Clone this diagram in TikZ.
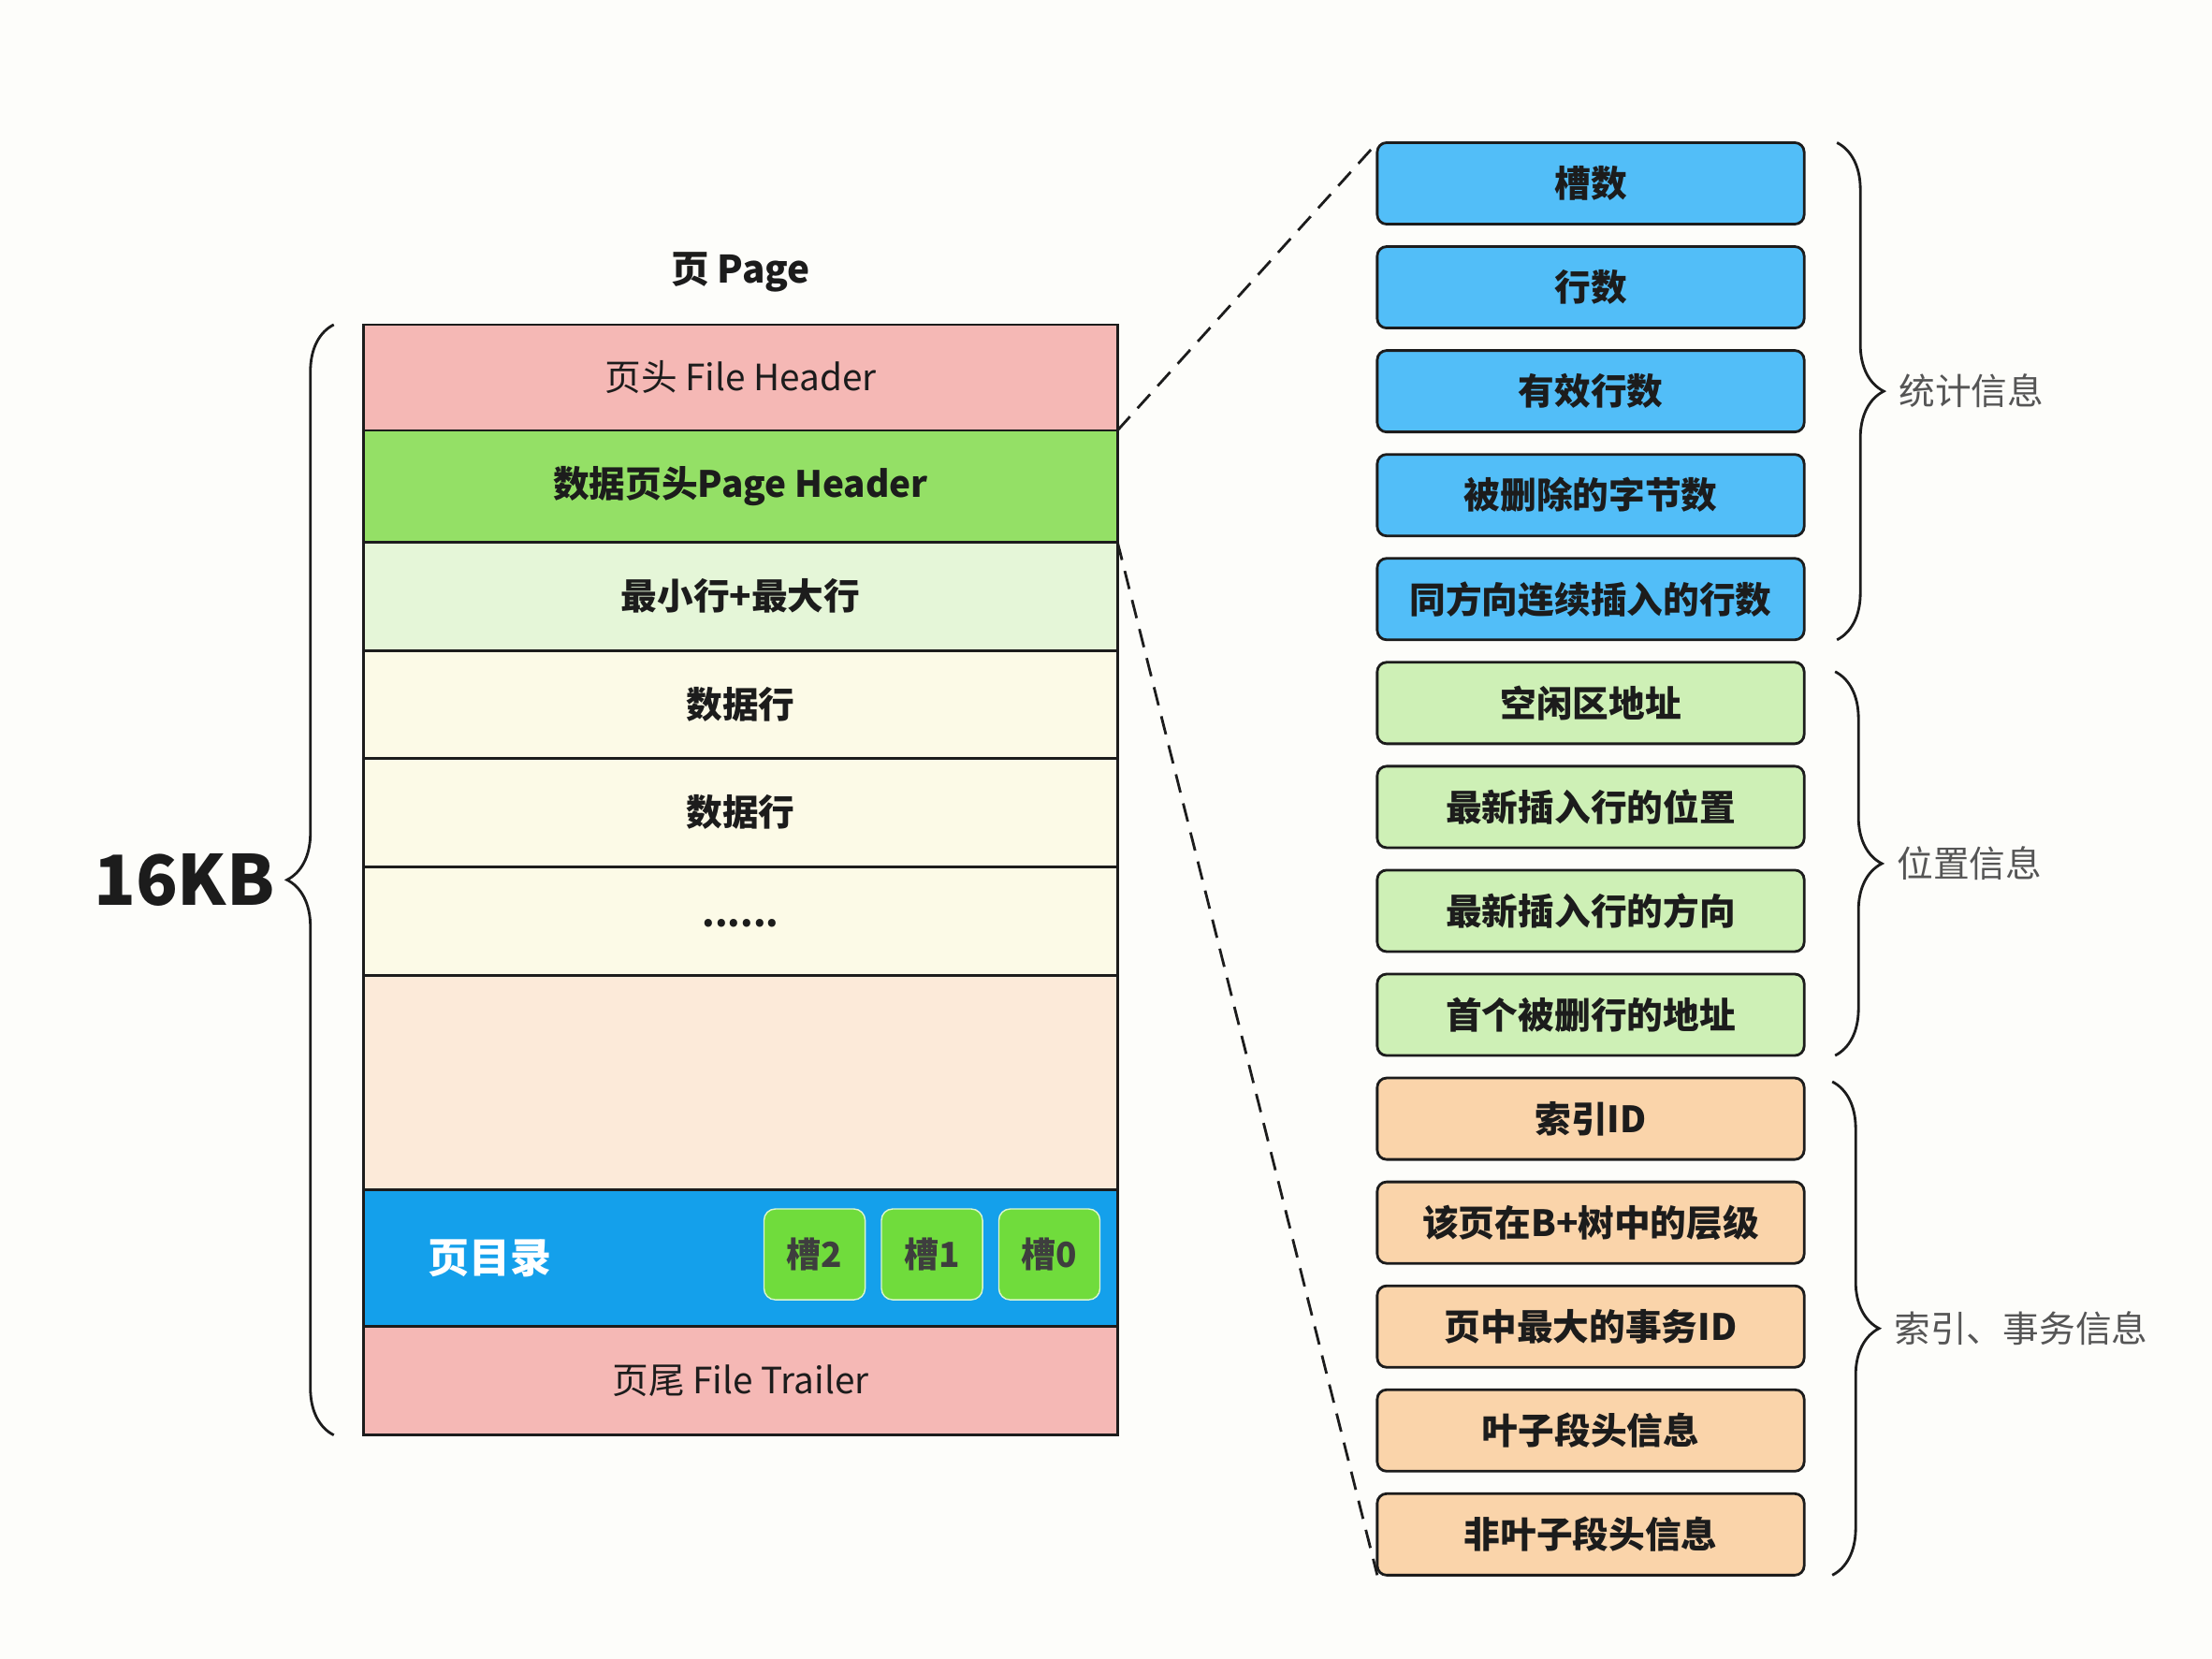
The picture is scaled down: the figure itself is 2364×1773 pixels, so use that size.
\documentclass[tikz,border=0pt]{standalone}
\usepackage{fontspec}
\setmainfont{Noto Sans CJK SC}
\usetikzlibrary{positioning, decorations.pathreplacing}

\definecolor{hdrpink}{RGB}{245,184,181}
\definecolor{phdrgreen}{RGB}{148,224,102}
\definecolor{infgreen}{RGB}{229,246,216}
\definecolor{rowcream}{RGB}{252,250,231}
\definecolor{freepeach}{RGB}{252,234,217}
\definecolor{dirblue}{RGB}{20,160,235}
\definecolor{slotgreen}{RGB}{112,220,60}
\definecolor{statblue}{RGB}{82,190,248}
\definecolor{posgreen}{RGB}{206,240,182}
\definecolor{idxorange}{RGB}{250,212,170}
\definecolor{ink}{RGB}{28,28,28}
\definecolor{infogray}{RGB}{85,85,85}
\definecolor{paper}{RGB}{253,253,250}

\begin{document}
\begin{tikzpicture}[
  x=0.01cm, y=-0.01cm,
  row/.style={draw=ink, thick, minimum width=8.05cm, minimum height=1.16cm, inner sep=0pt, outer sep=0pt, font=\fontsize{11}{13}\selectfont, text=ink},
  rowb/.style={row, font=\bfseries\fontsize{11}{13}\selectfont},
  slot/.style={draw=white!75!slotgreen, fill=slotgreen, rounded corners=1.2mm, minimum width=1.08cm, minimum height=0.97cm, inner sep=0pt, font=\bfseries\fontsize{10.5}{12}\selectfont, text=ink!85},
  field/.style={draw=ink, thick, rounded corners=1mm, minimum width=4.56cm, minimum height=0.87cm, inner sep=0pt, outer sep=0pt, font=\bfseries\fontsize{11}{13}\selectfont, text=ink},
  brace/.style={decorate, decoration={brace, amplitude=0.5cm}, thick, draw=ink},
  info/.style={font=\fontsize{11}{13}\selectfont, text=infogray, inner sep=0.1cm},
  link/.style={thick, draw=ink, dash pattern=on 2mm off 1.2mm}
]
  \fill[paper] (0,0) rectangle (2364,1773);
  \useasboundingbox (0,0) rectangle (2364,1773);

  % Page (left side)
  \node[row, fill=hdrpink, minimum height=1.13cm] (hdr) at (791.5,403.5) {页头 File Header};
  \node[rowb, fill=phdrgreen, minimum height=1.19cm, below=0pt of hdr] (phdr) {数据页头Page Header};
  \node[rowb, fill=infgreen, below=0pt of phdr] (infsup) {最小行+最大行};
  \node[rowb, fill=rowcream, minimum height=1.15cm, below=0pt of infsup] (rowa) {数据行};
  \node[rowb, fill=rowcream, below=0pt of rowa] (rowb) {数据行};
  \node[rowb, fill=rowcream, below=0pt of rowb] (more) {\raisebox{-0.6ex}{......}};
  \node[row, fill=freepeach, minimum height=2.29cm, below=0pt of more] (free) {};
  \node[row, fill=dirblue, minimum height=1.46cm, below=0pt of free] (dir) {};
  \node[row, fill=hdrpink, below=0pt of dir] (trl) {页尾 File Trailer};
  \node[font=\bfseries\fontsize{11.5}{14}\selectfont, text=ink, above=0.22cm of hdr] (title) {页 Page};

  % Page directory slots
  \node[font=\bfseries\fontsize{12.5}{15}\selectfont, text=white, right=0.56cm of dir.west] (dirlbl) {页目录};
  \node[slot, anchor=east] (s0) at ([xshift=-0.18cm,yshift=0.04cm]dir.east) {槽0};
  \node[slot, left=0.16cm of s0] (s1) {槽1};
  \node[slot, left=0.16cm of s1] (s2) {槽2};

  % Size brace
  \draw[brace] ([xshift=-0.32cm]trl.south west) -- ([xshift=-0.32cm]hdr.north west)
    node[midway, left=0.5cm, font=\bfseries\fontsize{21}{25}\selectfont, text=ink] (size) {16KB};

  % Page Header fields (right side)
  \node[field, fill=statblue] (b1) at (1700,196) {槽数};
  \node[field, fill=statblue, below=0.24cm of b1] (b2) {行数};
  \node[field, fill=statblue, below=0.24cm of b2] (b3) {有效行数};
  \node[field, fill=statblue, below=0.24cm of b3] (b4) {被删除的字节数};
  \node[field, fill=statblue, below=0.24cm of b4] (b5) {同方向连续插入的行数};
  \node[field, fill=posgreen, below=0.24cm of b5] (b6) {空闲区地址};
  \node[field, fill=posgreen, below=0.24cm of b6] (b7) {最新插入行的位置};
  \node[field, fill=posgreen, below=0.24cm of b7] (b8) {最新插入行的方向};
  \node[field, fill=posgreen, below=0.24cm of b8] (b9) {首个被删行的地址};
  \node[field, fill=idxorange, below=0.24cm of b9] (b10) {索引ID};
  \node[field, fill=idxorange, below=0.24cm of b10] (b11) {该页在B+树中的层级};
  \node[field, fill=idxorange, below=0.24cm of b11] (b12) {页中最大的事务ID};
  \node[field, fill=idxorange, below=0.24cm of b12] (b13) {叶子段头信息};
  \node[field, fill=idxorange, below=0.24cm of b13] (b14) {非叶子段头信息};

  % Group braces
  \draw[brace] ([xshift=0.35cm]b1.north east) -- ([xshift=0.35cm]b5.south east)
    node[midway, right=0.55cm, info] (stat) {统计信息};
  \draw[brace] ([xshift=0.33cm,yshift=-0.1cm]b6.north east) -- ([xshift=0.33cm]b9.south east)
    node[midway, right=0.55cm, info] (pos) {位置信息};
  \draw[brace] ([xshift=0.3cm,yshift=-0.04cm]b10.north east) -- ([xshift=0.3cm]b14.south east)
    node[midway, right=0.55cm, info] (idx) {索引、事务信息};

  % Zoom lines
  \draw[link] (hdr.south east) -- (b1.north west);
  \draw[link] (phdr.south east) -- (b14.south west);
\end{tikzpicture}
\end{document}
